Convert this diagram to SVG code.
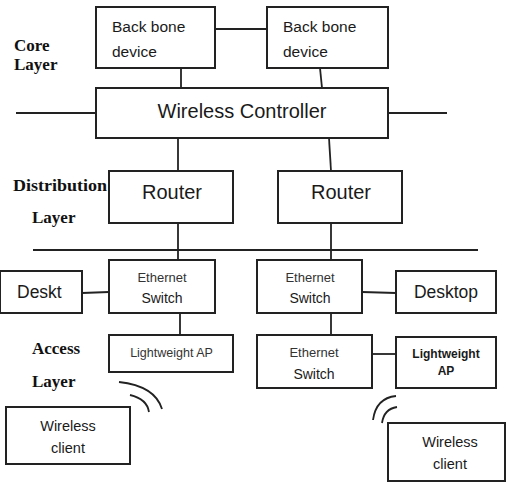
<svg xmlns="http://www.w3.org/2000/svg" width="507" height="486" viewBox="0 0 507 486">
<style>
.box{fill:#fff;stroke:#222;stroke-width:2}
.ln{fill:none;stroke:#222;stroke-width:1.8}
.t{font-family:"Liberation Sans",Arial,sans-serif;fill:#1a1a1a}
.s{font-family:"Liberation Sans",Arial,sans-serif;fill:#333}
.lay{font-family:"Liberation Serif","Times New Roman",serif;font-weight:bold;font-size:17px;fill:#111}
</style>
<rect width="507" height="486" fill="#fff"/>
<g id="connectors">
<path class="ln" d="M215,29H267"/>
<path class="ln" d="M181,68V88"/>
<path class="ln" d="M320,68L322,88"/>
<path class="ln" d="M16,113H96"/>
<path class="ln" d="M388,113H447"/>
<path class="ln" d="M178,138V171"/>
<path class="ln" d="M329,138L331,171"/>
<path class="ln" d="M33,250H478"/>
<path class="ln" d="M178,223V260"/>
<path class="ln" d="M331,223V260"/>
<path class="ln" d="M82,293L109,292"/>
<path class="ln" d="M362,292L396,293"/>
<path class="ln" d="M180,313V335"/>
<path class="ln" d="M331,313V335"/>
<path class="ln" d="M369,354H396"/>
<path class="ln" d="M119,382Q155,386 162,409"/>
<path class="ln" d="M130,395Q147,399 149,412"/>
<path class="ln" d="M396,396Q376,398 373,420"/>
<path class="ln" d="M397,407Q384,409 382,423"/>
</g>
<g id="labels">
<text class="lay" x="14" y="51">Core</text>
<text class="lay" x="14" y="70">Layer</text>
<text class="lay" x="13" y="191" textLength="94" lengthAdjust="spacingAndGlyphs">Distribution</text>
<text class="lay" x="32" y="223">Layer</text>
<text class="lay" x="32" y="354">Access</text>
<text class="lay" x="32" y="387">Layer</text>
</g>
<g id="backbone1">
<rect class="box" x="96" y="7" width="119" height="61"/>
<text class="t" x="112" y="32" font-size="15.5">Back bone</text>
<text class="t" x="112" y="57" font-size="15.5">device</text>
</g>
<g id="backbone2">
<rect class="box" x="267" y="7" width="121" height="61"/>
<text class="t" x="283" y="32" font-size="15.5">Back bone</text>
<text class="t" x="283" y="57" font-size="15.5">device</text>
</g>
<g id="controller">
<rect class="box" x="96" y="88" width="292" height="50"/>
<text class="t" x="242" y="118" font-size="20" text-anchor="middle">Wireless Controller</text>
</g>
<g id="router1">
<rect class="box" x="109" y="171" width="124" height="52"/>
<text class="t" x="172" y="199" font-size="20" text-anchor="middle">Router</text>
</g>
<g id="router2">
<rect class="box" x="278" y="171" width="124" height="52"/>
<text class="t" x="341" y="199" font-size="20" text-anchor="middle">Router</text>
</g>
<g id="switch1">
<rect class="box" x="109" y="260" width="106" height="53"/>
<text class="s" x="162" y="282" font-size="13" text-anchor="middle">Ethernet</text>
<text class="t" x="162" y="303" font-size="14" text-anchor="middle">Switch</text>
</g>
<g id="deskt">
<rect class="box" x="0" y="271" width="82" height="42"/>
<text class="t" x="17" y="298" font-size="17.5">Deskt</text>
</g>
<g id="switch2">
<rect class="box" x="257" y="260" width="105" height="53"/>
<text class="s" x="310" y="282" font-size="13" text-anchor="middle">Ethernet</text>
<text class="t" x="310" y="303" font-size="14" text-anchor="middle">Switch</text>
</g>
<g id="desktop">
<rect class="box" x="396" y="271" width="100" height="42"/>
<text class="t" x="446" y="298" font-size="17.5" text-anchor="middle">Desktop</text>
</g>
<g id="lwap1">
<rect class="box" x="109" y="335" width="124" height="37"/>
<text class="s" x="171.5" y="357" font-size="12.5" text-anchor="middle">Lightweight AP</text>
</g>
<g id="switch3">
<rect class="box" x="257" y="335" width="115" height="53"/>
<text class="s" x="314" y="357" font-size="13" text-anchor="middle">Ethernet</text>
<text class="t" x="314" y="379" font-size="14" text-anchor="middle">Switch</text>
</g>
<g id="lwap2">
<rect class="box" x="396" y="337" width="100" height="51"/>
<text class="t" x="446" y="358" font-size="12" font-weight="bold" text-anchor="middle">Lightweight</text>
<text class="t" x="446" y="375" font-size="12" font-weight="bold" text-anchor="middle">AP</text>
</g>
<g id="client1">
<rect class="box" x="6" y="407" width="124" height="57"/>
<text class="t" x="68" y="431" font-size="14.5" text-anchor="middle">Wireless</text>
<text class="t" x="68" y="453" font-size="14.5" text-anchor="middle">client</text>
</g>
<g id="client2">
<rect class="box" x="388" y="423" width="117" height="58"/>
<text class="t" x="450" y="447" font-size="14.5" text-anchor="middle">Wireless</text>
<text class="t" x="450" y="469" font-size="14.5" text-anchor="middle">client</text>
</g>
</svg>
